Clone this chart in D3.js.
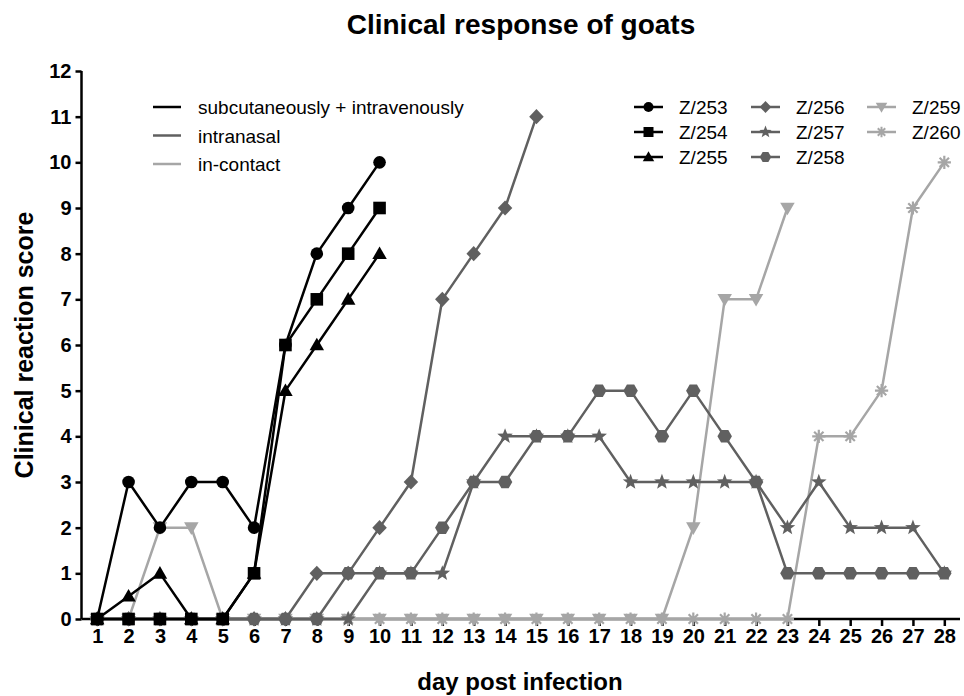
<!DOCTYPE html>
<html>
<head>
<meta charset="utf-8">
<script src="https://cdn.jsdelivr.net/npm/d3@7"></script>
<style>
  html, body { margin: 0; padding: 0; background: #fff; }
  svg { display: block; font-family: "Liberation Sans", Arial, sans-serif; }
</style>
</head>
<body>
<svg id="chart" width="964" height="696"></svg>
<script>
// ---------- data ----------
const days = d3.range(1, 29);                 // 1..28
const tickLabelsY = d3.range(0, 13);          // 0..12
const seriesNames = ["Z/253", "Z/254", "Z/255", "Z/256", "Z/257", "Z/258", "Z/259", "Z/260"];
const groups = ["subcutaneously + intravenously", "intranasal", "in-contact"];
const seriesGroup = [0, 0, 0, 1, 1, 1, 2, 2];
// values from day 1 onward
const z253 = [0, 3, 2, 3, 3, 2, 6, 8, 9, 10];
const z254 = [0, 0, 0, 0, 0, 1, 6, 7, 8, 9];
const z255 = [0, 0.5, 1, 0, 0, 1, 5, 6, 7, 8];
const z256 = [0, 0, 0, 0, 0, 0, 0, 1, 1, 2, 3, 7, 8, 9, 11];
const z257 = [0, 0, 0, 0, 0, 0, 0, 0, 0, 1, 1, 1, 3, 4, 4, 4, 4, 3, 3, 3, 3, 3, 2, 3, 2, 2, 2, 1];
const z258 = [0, 0, 0, 0, 0, 0, 0, 0, 1, 1, 1, 2, 3, 3, 4, 4, 5, 5, 4, 5, 4, 3, 1, 1, 1, 1, 1, 1];
const z259 = [0, 0, 2, 2, 0, 0, 0, 0, 0, 0, 0, 0, 0, 0, 0, 0, 0, 0, 0, 2, 7, 7, 9];
const z260 = [0, 0, 0, 0, 0, 0, 0, 0, 0, 0, 0, 0, 0, 0, 0, 0, 0, 0, 0, 0, 0, 0, 0, 4, 4, 5, 9, 10];
const seriesValues = [z253, z254, z255, z256, z257, z258, z259, z260];

// ---------- styles ----------
const groupColors = ["#000000", "#606060", "#a6a6a6"];
const shapes = ["circle", "square", "triangle", "diamond", "star", "hexagon", "triangleDown", "asterisk"];

function shapePath(shape, r) {
  const p = d3.path();
  switch (shape) {
    case "circle": p.arc(0, 0, r, 0, 2 * Math.PI); break;
    case "square": p.rect(-r, -r, 2 * r, 2 * r); break;
    case "triangle": p.moveTo(0, -r * 1.15); p.lineTo(r * 1.15, r * 0.85); p.lineTo(-r * 1.15, r * 0.85); p.closePath(); break;
    case "triangleDown": p.moveTo(0, r * 1.15); p.lineTo(r * 1.15, -r * 0.85); p.lineTo(-r * 1.15, -r * 0.85); p.closePath(); break;
    case "diamond": p.moveTo(0, -r * 1.2); p.lineTo(r * 1.15, 0); p.lineTo(0, r * 1.2); p.lineTo(-r * 1.15, 0); p.closePath(); break;
    case "hexagon":
      for (let i = 0; i < 6; i++) {
        const a = i * Math.PI / 3;
        const x = r * 1.15 * Math.cos(a), y = r * 1.15 * Math.sin(a);
        if (i === 0) p.moveTo(x, y); else p.lineTo(x, y);
      }
      p.closePath(); break;
    case "star": {
      const R = r * 1.3, ri = R * 0.42;
      for (let i = 0; i < 10; i++) {
        const a = -Math.PI / 2 + i * Math.PI / 5;
        const rr = i % 2 === 0 ? R : ri;
        if (i === 0) p.moveTo(rr * Math.cos(a), rr * Math.sin(a)); else p.lineTo(rr * Math.cos(a), rr * Math.sin(a));
      }
      p.closePath(); break;
    }
    case "asterisk":
      for (let i = 0; i < 4; i++) {
        const a = i * Math.PI / 4;
        const R = r * 1.05;
        p.moveTo(-R * Math.cos(a), -R * Math.sin(a));
        p.lineTo(R * Math.cos(a), R * Math.sin(a));
      }
      break;
  }
  return p.toString();
}

// ---------- layout ----------
const svg = d3.select("#chart");
const x = d3.scaleLinear().domain([0.5, 28.5]).range([81.5, 960]);
const y = d3.scaleLinear().domain([0, 12]).range([619, 71]);

// title
svg.append("text").attr("x", 521).attr("y", 34).attr("text-anchor", "middle")
  .attr("font-size", 28).attr("font-weight", "bold").text("Clinical response of goats");

// axes
const yAxis = d3.axisLeft(y).tickValues(tickLabelsY).tickFormat(d3.format("d")).tickSize(6).tickPadding(4);
const gy = svg.append("g").attr("transform", "translate(81.5,0)").call(yAxis);
const xAxis = d3.axisBottom(x).tickValues(days).tickFormat(d3.format("d")).tickSize(7).tickPadding(3);
const gx = svg.append("g").attr("transform", "translate(0,619)").call(xAxis);
[gx, gy].forEach(g => {
  g.select(".domain").attr("stroke", "#000").attr("stroke-width", 2.5);
  g.selectAll(".tick line").attr("stroke", "#000").attr("stroke-width", 2.5);
  g.selectAll(".tick text").attr("fill", "#000").attr("font-size", 20).attr("font-weight", "bold")
    .attr("font-family", "Liberation Sans, Arial, sans-serif");
});
gy.select(".domain").attr("d", "M81.5,619V71").attr("transform", "translate(-81.5,0)");
gx.select(".domain").attr("d", "M81.5,0H960");

// axis titles
svg.append("text").attr("transform", "translate(33,345) rotate(-90)").attr("text-anchor", "middle")
  .attr("font-size", 25).attr("font-weight", "bold").text("Clinical reaction score");
svg.append("text").attr("x", 520).attr("y", 690).attr("text-anchor", "middle")
  .attr("font-size", 24).attr("font-weight", "bold").text("day post infection");

// series (draw order: bottom to top)
const drawOrder = [7, 6, 4, 5, 3, 2, 0, 1];
const line = d3.line().x(d => x(d.day)).y(d => y(d.v));
const plot = svg.append("g");
drawOrder.forEach(i => {
  const data = seriesValues[i].map((v, k) => ({ day: days[k], v }));
  const col = groupColors[seriesGroup[i]];
  const g = plot.append("g");
  g.append("path").attr("d", line(data)).attr("fill", "none").attr("stroke", col).attr("stroke-width", 2.5)
    .attr("stroke-linejoin", "round");
  g.selectAll("path.m").data(data).join("path").attr("class", "m")
    .attr("transform", d => `translate(${x(d.day)},${y(d.v)})`)
    .attr("d", shapePath(shapes[i], 6.3))
    .attr("fill", shapes[i] === "asterisk" ? "none" : col)
    .attr("stroke", col)
    .attr("stroke-width", shapes[i] === "asterisk" ? 2.2 : 0);
});

// legend: groups
const lg1 = svg.append("g");
groups.forEach((name, i) => {
  const yy = 107 + i * 28.5;
  lg1.append("line").attr("x1", 153).attr("x2", 181).attr("y1", yy).attr("y2", yy)
    .attr("stroke", groupColors[i]).attr("stroke-width", 2.5);
  lg1.append("text").attr("x", 198).attr("y", yy + 7).attr("font-size", 19).attr("fill", "#000").text(name);
});

// legend: series
const lg2 = svg.append("g");
const colX = [634, 751, 867];
seriesNames.forEach((name, i) => {
  const c = Math.floor(i / 3), r = i % 3;
  const xx = colX[c], yy = 107 + r * 25;
  const col = groupColors[seriesGroup[i]];
  lg2.append("line").attr("x1", xx).attr("x2", xx + 29).attr("y1", yy).attr("y2", yy)
    .attr("stroke", col).attr("stroke-width", 2.5);
  lg2.append("path").attr("transform", `translate(${xx + 14.5},${yy})`).attr("d", shapePath(shapes[i], 5))
    .attr("fill", shapes[i] === "asterisk" ? "none" : col).attr("stroke", col)
    .attr("stroke-width", shapes[i] === "asterisk" ? 2 : 0);
  lg2.append("text").attr("x", xx + 45).attr("y", yy + 7).attr("font-size", 19).attr("fill", "#000").text(name);
});
</script>
</body>
</html>
